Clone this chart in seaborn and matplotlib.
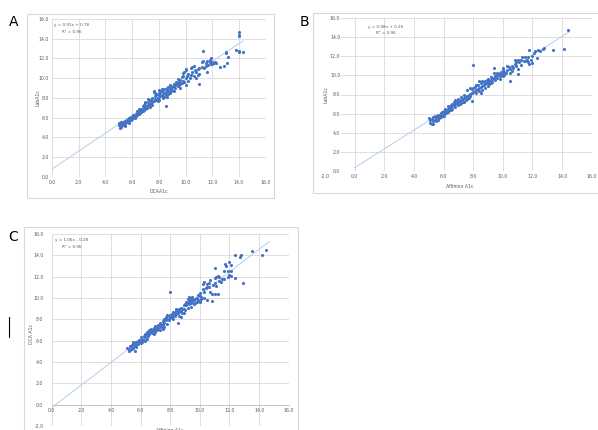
import numpy as np
import pandas as pd
import matplotlib
matplotlib.use("Agg")
import matplotlib.pyplot as plt
import seaborn as sns
from matplotlib.patches import Rectangle
from matplotlib.lines import Line2D

# ---- data ----
# A: DCA A1c (x) vs Lab A1c (y)
a_x = [5.0, 5.0, 5.1, 5.1, 5.2, 5.2, 5.3, 5.3, 5.4, 5.4, 5.5, 5.5, 5.6, 5.6, 5.7, 5.7, 5.8, 5.8, 5.9, 5.9, 6.0, 6.0, 5.2, 5.5, 5.3,
       6.1, 6.1, 6.2, 6.3, 6.3, 6.4, 6.4, 6.5, 6.5, 6.6, 6.6, 6.7, 6.7, 6.8, 6.8, 6.9, 6.9, 7.0, 7.0, 7.0, 6.6, 6.8,
       7.1, 7.1, 7.2, 7.2, 7.3, 7.3, 7.4, 7.4, 7.5, 7.5, 7.6, 7.6, 7.6, 7.7, 7.7, 7.8, 7.8, 7.9, 7.9, 8.0, 8.0, 8.0, 7.2, 7.5, 7.9,
       8.1, 8.1, 8.2, 8.2, 8.3, 8.3, 8.4, 8.4, 8.5, 8.5, 8.5, 8.6, 8.6, 8.7, 8.7, 8.8, 8.8, 8.9, 8.9, 9.0, 9.0, 8.2, 8.4, 8.7, 8.9,
       9.1, 9.1, 9.2, 9.2, 9.3, 9.3, 9.4, 9.4, 9.5, 9.5, 9.6, 9.6, 9.7, 9.7, 9.8, 9.8, 9.9, 9.9, 10.0, 10.0, 10.0, 10.0,
       10.1, 10.2, 10.3, 10.4, 10.5, 10.5, 10.6, 10.7, 10.8, 10.9, 10.9, 11.0, 11.0, 11.0, 10.6,
       11.2, 11.3, 11.3, 11.4, 11.5, 11.6, 11.7, 11.8, 11.9, 11.9, 12.0, 11.6,
       12.2, 12.3, 12.6, 12.9, 13.0, 13.0, 13.1, 13.2, 13.8, 14.0, 14.0, 14.0, 14.0, 14.0, 14.3, 12.1,
       6.2, 6.5, 7.0, 7.3, 7.7, 8.0, 8.3, 8.6, 8.8, 9.1, 9.4, 9.6, 9.8, 10.2, 10.4, 10.8, 11.2, 11.5, 11.8, 12.0,
       5.5, 5.8, 6.4, 6.9]
a_y = [5.2, 5.4, 4.9, 5.1, 5.3, 5.0, 5.5, 5.2, 5.4, 5.6, 5.3, 5.7, 5.5, 5.8, 5.6, 5.9, 5.7, 6.0, 5.8, 6.1, 6.0, 5.9, 5.5, 5.5, 5.4,
       6.1, 6.3, 6.2, 6.4, 6.2, 6.5, 6.3, 6.6, 6.4, 6.7, 6.5, 6.8, 6.6, 6.9, 6.7, 7.0, 6.8, 7.1, 6.9, 7.5, 6.9, 7.2,
       7.2, 7.0, 7.3, 7.6, 7.4, 7.1, 7.5, 7.8, 7.6, 7.3, 8.6, 8.7, 7.7, 7.9, 8.2, 7.8, 8.3, 8.0, 8.4, 8.1, 8.5, 7.8, 7.9, 8.0, 7.7,
       8.3, 8.6, 8.2, 8.7, 8.4, 8.8, 8.5, 8.9, 7.2, 8.6, 8.3, 8.8, 9.0, 8.7, 9.1, 8.9, 8.5, 9.0, 9.2, 9.1, 8.8, 8.9, 8.1, 8.4, 8.7,
       9.2, 9.4, 9.3, 9.0, 9.4, 9.6, 9.5, 9.2, 9.6, 9.3, 9.4, 9.8, 10.1, 9.5, 10.2, 9.7, 10.6, 9.6, 10.8, 10.0, 9.3, 10.9,
       10.2, 10.4, 10.0, 10.3, 11.1, 10.6, 10.2, 10.8, 10.6, 10.9, 10.3, 11.0, 9.4, 10.4, 11.2,
       11.1, 12.8, 11.7, 11.0, 11.5, 11.7, 11.3, 11.6, 12.0, 11.4, 11.6, 10.6,
       11.6, 11.5, 11.1, 11.2, 12.7, 12.5, 11.5, 12.1, 12.9, 14.7, 14.4, 14.3, 12.7, 12.8, 12.7, 11.5,
       6.0, 6.9, 7.6, 7.8, 8.5, 8.8, 8.0, 8.1, 9.3, 8.7, 9.9, 9.0, 10.5, 9.7, 11.0, 10.0, 11.6, 11.2, 11.8, 11.4,
       5.1, 5.4, 6.7, 7.3]

# B: Affinion A1c (x) vs Lab A1c (y)
b_x = [5.0, 5.1, 5.1, 5.2, 5.2, 5.3, 5.3, 5.4, 5.4, 5.5, 5.5, 5.6, 5.6, 5.7, 5.7, 5.8, 5.8, 5.9, 5.9, 6.0, 6.0, 5.6, 5.8,
       6.1, 6.1, 6.2, 6.2, 6.3, 6.3, 6.4, 6.4, 6.5, 6.5, 6.6, 6.6, 6.7, 6.7, 6.8, 6.8, 6.9, 6.9, 7.0, 7.0, 6.5,
       7.1, 7.1, 7.2, 7.2, 7.3, 7.3, 7.4, 7.4, 7.5, 7.5, 7.6, 7.6, 7.7, 7.7, 7.8, 7.8, 7.9, 7.9, 8.0, 8.0, 8.0, 7.6, 7.9,
       8.1, 8.1, 8.2, 8.2, 8.3, 8.3, 8.4, 8.4, 8.5, 8.5, 8.6, 8.6, 8.7, 8.7, 8.8, 8.8, 8.9, 8.9, 9.0, 9.0, 8.4, 8.6,
       9.1, 9.1, 9.2, 9.2, 9.3, 9.3, 9.4, 9.4, 9.4, 9.5, 9.5, 9.6, 9.6, 9.7, 9.8, 9.8, 9.9, 9.9, 10.0, 10.0, 10.0, 10.0,
       10.1, 10.2, 10.3, 10.4, 10.5, 10.5, 10.6, 10.6, 10.7, 10.8, 10.8, 10.9, 11.0, 11.0, 11.0,
       11.1, 11.2, 11.3, 11.4, 11.5, 11.6, 11.7, 11.8, 11.8, 11.9, 12.0, 12.0,
       12.1, 12.2, 12.3, 12.4, 12.5, 12.7, 12.8, 13.4, 14.1, 14.4,
       6.0, 6.3, 6.8, 7.2, 7.4, 7.8, 8.2, 8.5, 8.8, 9.0, 9.2, 9.6, 9.8, 10.1, 10.3, 10.5, 10.9, 11.2, 11.5, 11.7,
       5.3, 5.7, 6.6, 7.0]
b_y = [5.5, 5.0, 5.3, 4.9, 5.4, 5.2, 5.6, 5.3, 5.7, 5.5, 5.2, 5.6, 5.9, 5.7, 5.5, 5.9, 6.1, 5.8, 6.2, 6.0, 6.3, 5.3, 5.6,
       6.2, 6.5, 6.3, 6.1, 6.5, 6.8, 6.6, 6.4, 6.7, 6.9, 6.8, 6.5, 6.9, 7.2, 7.0, 6.7, 7.1, 7.3, 7.2, 6.9, 6.4,
       7.3, 7.0, 7.4, 7.1, 7.5, 7.2, 7.6, 8.0, 7.7, 7.4, 8.5, 7.8, 8.0, 7.6, 8.7, 8.1, 8.2, 7.3, 11.1, 8.3, 8.7, 7.5, 8.6,
       8.4, 8.8, 8.5, 8.2, 8.6, 9.0, 8.7, 8.4, 8.8, 9.2, 8.9, 8.5, 9.0, 9.3, 9.1, 8.7, 9.2, 9.5, 9.3, 8.9, 9.4, 9.4,
       9.4, 9.1, 9.5, 9.8, 9.6, 9.3, 10.8, 10.2, 9.7, 9.9, 9.5, 10.0, 9.7, 10.1, 10.2, 9.9, 10.4, 10.0, 10.6, 10.3, 10.8, 9.9,
       10.4, 10.2, 10.6, 10.9, 9.4, 10.7, 11.0, 10.5, 10.8, 11.2, 11.6, 11.0, 10.1, 11.6, 10.7,
       11.4, 11.6, 11.9, 11.5, 11.5, 11.6, 11.4, 11.2, 12.7, 11.6, 12.0, 11.3,
       12.3, 12.5, 11.8, 12.7, 12.6, 12.8, 12.9, 12.7, 12.8, 14.7,
       5.7, 6.2, 7.4, 7.7, 7.2, 7.8, 9.0, 8.2, 9.4, 9.6, 9.2, 10.3, 9.6, 10.0, 11.0, 10.3, 11.4, 11.1, 11.9, 11.9,
       4.9, 5.8, 7.0, 7.5]

# C: Affinion A1c (x) vs DCA A1c (y)
c_x = [5.1, 5.2, 5.2, 5.3, 5.3, 5.4, 5.4, 5.5, 5.5, 5.6, 5.6, 5.6, 5.7, 5.7, 5.8, 5.8, 5.9, 5.9, 6.0, 6.0, 5.4, 5.7,
       6.1, 6.1, 6.2, 6.2, 6.3, 6.3, 6.4, 6.4, 6.5, 6.5, 6.6, 6.6, 6.7, 6.7, 6.8, 6.8, 6.9, 6.9, 7.0, 7.0, 6.4, 6.9,
       7.1, 7.1, 7.2, 7.2, 7.3, 7.3, 7.4, 7.4, 7.5, 7.5, 7.6, 7.6, 7.7, 7.7, 7.8, 7.8, 7.9, 7.9, 8.0, 8.0, 8.0, 7.5,
       8.1, 8.1, 8.2, 8.2, 8.3, 8.3, 8.4, 8.4, 8.5, 8.5, 8.5, 8.6, 8.6, 8.7, 8.7, 8.8, 8.8, 8.9, 8.9, 9.0, 9.0, 8.7,
       9.1, 9.1, 9.2, 9.2, 9.3, 9.3, 9.3, 9.3, 9.4, 9.4, 9.4, 9.4, 9.5, 9.5, 9.6, 9.6, 9.7, 9.8, 9.8, 9.9, 9.9, 10.0, 10.0, 10.0,
       10.1, 10.1, 10.2, 10.2, 10.3, 10.3, 10.4, 10.5, 10.5, 10.6, 10.6, 10.7, 10.8, 10.8, 10.9, 11.0, 11.0, 11.0,
       11.1, 11.1, 11.2, 11.2, 11.3, 11.4, 11.5, 11.6, 11.7, 11.8, 11.9, 12.0, 12.0, 12.1, 12.1,
       12.4, 12.4, 12.7, 12.8, 12.9, 13.5, 14.2, 14.5,
       5.5, 6.0, 6.3, 6.6, 7.0, 7.3, 7.6, 7.8, 8.2, 8.4, 8.6, 8.9, 9.2, 9.5, 9.7, 10.0, 10.3, 10.5, 10.7, 11.0,
       11.3, 11.6, 11.9, 12.1]
c_y = [5.3, 5.0, 5.2, 5.5, 5.1, 5.4, 5.6, 5.3, 5.7, 5.0, 5.5, 5.8, 5.6, 5.9, 5.7, 6.0, 5.9, 6.1, 6.0, 5.8, 5.2, 5.4,
       6.2, 5.9, 6.4, 6.1, 6.6, 6.3, 6.5, 6.8, 6.7, 6.4, 6.9, 6.6, 6.8, 7.1, 7.0, 6.7, 7.2, 6.9, 7.1, 7.4, 6.2, 6.6,
       7.3, 7.0, 7.5, 7.2, 7.4, 7.7, 7.6, 7.3, 7.8, 7.5, 7.7, 8.0, 7.9, 8.2, 8.0, 7.6, 8.3, 7.9, 10.6, 8.1, 8.4, 7.1,
       8.5, 8.2, 8.4, 8.7, 8.3, 8.6, 8.8, 8.5, 7.7, 8.9, 8.6, 9.0, 8.3, 9.1, 8.8, 9.0, 8.6, 9.3, 9.0, 9.4, 8.9, 8.2,
       9.3, 9.6, 9.5, 9.9, 9.4, 9.7, 10.0, 10.1, 9.8, 10.0, 9.5, 9.2, 9.9, 9.6, 9.8, 9.4, 9.9, 9.6, 10.0, 10.3, 9.8, 9.8, 10.2, 10.5,
       10.1, 9.9, 10.8, 11.3, 10.0, 11.5, 10.9, 11.0, 9.8, 11.4, 11.0, 11.7, 10.4, 9.7, 11.2, 12.8, 10.4, 11.9,
       12.0, 11.1, 10.4, 12.1, 12.0, 11.5, 11.8, 11.8, 13.2, 13.0, 12.5, 13.4, 12.2, 13.1, 12.1,
       11.9, 14.0, 13.8, 14.0, 11.4, 14.4, 14.0, 14.5,
       5.9, 6.3, 6.0, 7.0, 6.8, 7.0, 7.3, 8.4, 8.0, 9.0, 8.7, 8.6, 9.1, 10.1, 9.5, 9.6, 10.6, 11.3, 10.6, 11.4,
       11.6, 12.5, 12.0, 12.5]

# fitted lines shown on the chart: slope, intercept, last x of the trendline
fit_a = [0.91, 0.78, 14.3]
fit_b = [0.98, 0.35, 14.5]
fit_c = [1.06, -0.28, 14.7]
eq_a = ["y = 0.91x + 0.78", "R² = 0.96"]
eq_b = ["y = 0.98x + 0.35", "R² = 0.96"]
eq_c = ["y = 1.06x - 0.28", "R² = 0.96"]

DOT = "#4472c4"
TREND = "#b4cdec"
GRID = "#d9d9d9"
TXT = "#595959"

sns.set_theme(style="white")
plt.rcParams['font.family'] = ['DejaVu Sans']

fig = plt.figure(figsize=(5.98, 4.30), dpi=100)

# panel frames (like the excel chart borders)
for (x0, y0, x1, y1) in [(27, 14, 274, 198), (313, 13, 600, 193), (24, 227, 298, 432)]:
    fig.patches.append(Rectangle((x0 / 598, 1 - y1 / 430), (x1 - x0) / 598, (y1 - y0) / 430,
                                 transform=fig.transFigure, fill=False, ec=GRID, lw=0.8))


def draw(ax, x, y, fit, eq, eq_xy, xmin, ymin, xlabel, ylabel):
    df = pd.DataFrame({"x": x, "y": y})
    lx = np.array([0, fit[2]])
    sns.lineplot(x=lx, y=fit[0] * lx + fit[1], ax=ax, color=TREND, lw=0.7, zorder=2)
    sns.scatterplot(data=df, x="x", y="y", ax=ax, color=DOT, s=5, linewidth=0, zorder=3)
    ax.set_xlim(xmin, 16)
    ax.set_ylim(ymin, 16)
    ax.set_xticks(np.arange(xmin, 16.01, 2))
    ax.set_yticks(np.arange(ymin, 16.01, 2))
    ax.xaxis.set_major_formatter(matplotlib.ticker.FormatStrFormatter('%.1f'))
    ax.yaxis.set_major_formatter(matplotlib.ticker.FormatStrFormatter('%.1f'))
    ax.tick_params(length=0, labelsize=3.3, colors=TXT, pad=2.5)
    for s in ax.spines.values():
        s.set_visible(False)
    ax.set_facecolor("none")
    ax.set_xlabel(xlabel, fontsize=3.3, color=TXT)
    ax.set_ylabel(ylabel, fontsize=3.3, color=TXT)
    ax.text(eq_xy[0], eq_xy[1], eq[0], fontsize=3.0, color=TXT, ha="center", va="center")
    ax.text(eq_xy[0], eq_xy[2], eq[1], fontsize=3.0, color=TXT, ha="center", va="center")


# A
ax_a = fig.add_axes([52 / 598, 1 - 176.7 / 430, 213.7 / 598, 157.7 / 430])
draw(ax_a, a_x, a_y, fit_a, eq_a, (1.45, 15.4, 14.7), 0, 0, "DCAA1c", "LabA1c")
ax_a.grid(True, color=GRID, lw=0.6)
ax_a.axhline(0, color="#bfbfbf", lw=0.6, zorder=1)
ax_a.xaxis.set_label_coords(0.5, -0.075)
ax_a.yaxis.set_label_coords(-0.056, 0.5)

# B
ax_b = fig.add_axes([325 / 598, 1 - 171 / 430, 266.7 / 598, 153 / 430])
draw(ax_b, b_x, b_y, fit_b, eq_b, (2.1, 15.1, 14.45), -2, 0, "Affinion A1c", "LabA1c")
ax_b.grid(False)
ax_b.hlines(np.arange(0, 16.01, 2), -1.0, 16, color=GRID, lw=0.6, zorder=1)
ax_b.vlines(np.arange(0, 16.01, 2), 0, 16, color=GRID, lw=0.6, zorder=1)
ax_b.tick_params(axis="y", pad=-11)
ax_b.xaxis.set_label_coords(0.506, -0.082)
ax_b.yaxis.set_label_coords(0.013, 0.5)

# C
ax_c = fig.add_axes([51.7 / 598, 1 - 426 / 430, 237 / 598, 192 / 430])
draw(ax_c, c_x, c_y, fit_c, eq_c, (1.37, 15.43, 14.8), 0, -2, "Affinion A1c", "DCA A1c")
ax_c.grid(True, color=GRID, lw=0.6)
ax_c.spines["bottom"].set_visible(True)
ax_c.spines["bottom"].set_position(("data", 0))
ax_c.spines["bottom"].set_color("#bfbfbf")
ax_c.spines["bottom"].set_linewidth(0.6)
ax_c.tick_params(axis="y", pad=6)
ax_c.xaxis.set_label_coords(0.5, -0.012)
ax_c.yaxis.set_label_coords(-0.073, 0.48)

# panel letters
fig.text(14 / 598, 1 - 22 / 430, "A", fontsize=10, color="black", ha="center", va="center")
fig.text(304 / 598, 1 - 22 / 430, "B", fontsize=10, color="black", ha="center", va="center")
fig.text(13 / 598, 1 - 237 / 430, "C", fontsize=10, color="black", ha="center", va="center")

# stray mark left of panel C
fig.add_artist(Line2D([9.3 / 598, 9.3 / 598], [1 - 317 / 430, 1 - 337 / 430],
                      transform=fig.transFigure, color="black", lw=0.8))

fig.savefig("out.png", dpi=100)
